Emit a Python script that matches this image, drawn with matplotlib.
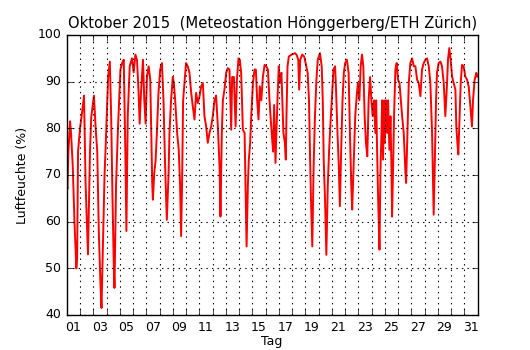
import numpy as np
import matplotlib
matplotlib.use('Agg')
import matplotlib.pyplot as plt

# Zeitpunkt (Tag im Oktober, mit Bruchteil) und relative Luftfeuchte (%)
tage = [
    1.00, 1.05, 1.12, 1.25, 1.32, 1.45, 1.58, 1.65, 1.72, 1.78, 1.85, 2.00, 2.18, 2.30,
    2.42, 2.55, 2.60, 2.75, 2.85, 3.05, 3.18, 3.30, 3.42, 3.55, 3.62, 3.75, 3.85, 3.92,
    4.05, 4.12, 4.25, 4.35, 4.45, 4.55, 4.60, 4.72, 4.85, 4.95, 5.05, 5.18, 5.30, 5.42,
    5.50, 5.60, 5.75, 5.92, 6.05, 6.18, 6.30, 6.42, 6.50, 6.60, 6.75, 6.85, 6.95, 7.05,
    7.18, 7.30, 7.38, 7.45, 7.50, 7.60, 7.70, 7.80, 7.92, 8.05, 8.18, 8.30, 8.42, 8.55,
    8.68, 8.75, 8.87, 9.00, 9.08, 9.18, 9.33, 9.45, 9.55, 9.63, 9.70, 9.78, 9.88, 10.00,
    10.13, 10.26, 10.39, 10.51, 10.64, 10.76, 10.89, 11.02, 11.14, 11.27, 11.39, 11.52,
    11.64, 11.77, 11.90, 12.02, 12.15, 12.27, 12.40, 12.53, 12.60, 12.70, 12.78, 12.90,
    13.03, 13.16, 13.28, 13.41, 13.48, 13.61, 13.74, 13.84, 13.96, 14.06, 14.16, 14.29,
    14.42, 14.49, 14.57, 14.67, 14.74, 14.84, 14.92, 15.05, 15.17, 15.27, 15.37, 15.47,
    15.57, 15.68, 15.80, 15.93, 16.05, 16.18, 16.30, 16.43, 16.57, 16.65, 16.75, 16.90,
    17.00, 17.08, 17.20, 17.28, 17.35, 17.46, 17.53, 17.58, 17.66, 17.76, 17.96, 18.22,
    18.34, 18.47, 18.54, 18.62, 18.77, 18.92, 19.05, 19.18, 19.28, 19.35, 19.43, 19.53,
    19.63, 19.73, 19.84, 19.94, 20.11, 20.24, 20.32, 20.39, 20.49, 20.59, 20.70, 20.80,
    20.90, 21.00, 21.13, 21.25, 21.33, 21.43, 21.53, 21.61, 21.71, 21.81, 21.91, 22.01,
    22.14, 22.27, 22.37, 22.47, 22.54, 22.65, 22.77, 22.90, 22.97, 23.08, 23.18, 23.28,
    23.38, 23.48, 23.58, 23.68, 23.78, 23.89, 23.99, 24.09, 24.19, 24.29, 24.35, 24.42,
    24.50, 24.55, 24.60, 24.67, 24.75, 24.80, 24.87, 24.95, 25.00, 25.10, 25.18, 25.25,
    25.35, 25.43, 25.50, 25.55, 25.63, 25.70, 25.80, 25.90, 26.00, 26.11, 26.21, 26.31,
    26.43, 26.56, 26.61, 26.71, 26.81, 26.93, 27.06, 27.19, 27.31, 27.44, 27.56, 27.69,
    27.81, 27.94, 28.07, 28.19, 28.32, 28.44, 28.57, 28.64, 28.69, 28.77, 28.87, 28.94,
    29.07, 29.20, 29.32, 29.45, 29.57, 29.70, 29.77, 29.87, 29.97, 30.08, 30.20, 30.33,
    30.40, 30.48, 30.55, 30.65, 30.73, 30.83, 30.95, 31.08, 31.21, 31.33, 31.46, 31.58,
    31.66, 31.78, 31.91, 31.98,
]
feuchte = [
    68.0, 67.0, 75.0, 81.5, 79.0, 72.0, 60.0, 55.0, 50.0, 52.0, 75.0, 80.0, 84.0, 87.0,
    68.0, 57.5, 53.0, 75.0, 82.5, 87.0, 80.0, 75.0, 57.5, 46.0, 41.5, 57.5, 70.0, 75.0,
    85.5, 91.0, 94.3, 82.5, 65.0, 50.4, 45.8, 68.0, 79.0, 86.0, 92.6, 94.0, 94.7, 75.0,
    58.0, 82.5, 93.3, 95.0, 92.0, 95.8, 94.7, 87.6, 81.0, 87.6, 94.7, 86.0, 81.0, 91.0,
    93.3, 90.4, 79.0, 68.0, 64.7, 70.4, 73.0, 79.0, 87.6, 92.6, 94.0, 86.0, 72.0, 60.4,
    70.0, 79.0, 86.0, 91.0, 89.7, 86.0, 79.0, 75.4, 68.0, 56.9, 68.0, 86.0, 89.7, 94.0,
    93.3, 91.9, 87.6, 84.7, 81.9, 87.6, 85.4, 86.9, 89.0, 89.7, 82.6, 80.4,
    76.9, 79.0, 80.4, 82.6, 86.0, 87.0, 80.4, 71.9, 61.1, 79.0, 86.0, 88.3,
    91.9, 92.9, 92.6, 79.7, 91.0, 91.0, 80.4, 90.4, 95.0, 94.7, 91.9, 79.7,
    79.0, 68.0, 54.7, 68.0, 73.3, 76.9, 82.6, 89.7, 92.6, 92.6, 86.0, 81.9,
    89.0, 86.0, 91.0, 93.6, 93.3, 92.6, 86.0, 80.4, 75.0, 85.0, 72.6, 86.0,
    93.3, 89.7, 91.9, 84.7, 79.0, 76.9, 73.3, 82.6, 93.3, 95.4, 95.8, 96.1,
    95.8, 94.7, 88.3, 94.7, 95.8, 95.4, 93.6, 91.9, 86.0, 75.4, 64.7, 54.7,
    71.9, 82.6, 90.4, 94.7, 96.1, 93.3, 86.0, 73.3, 64.7, 52.9, 68.0, 75.4,
    81.0, 86.0, 92.6, 93.3, 87.6, 79.0, 71.9, 63.3, 75.4, 86.0, 91.9, 94.0,
    94.7, 91.9, 79.0, 68.0, 62.6, 71.9, 82.6, 87.6, 89.7, 86.0, 93.3, 95.8,
    93.3, 82.6, 76.9, 74.0, 86.0, 91.0, 86.0, 82.6, 86.0, 79.0, 86.0, 75.4,
    64.7, 59.7, 54.0, 70.4, 79.0, 86.0, 73.3, 86.0, 76.9, 86.0, 79.0, 86.0,
    75.4, 82.6, 71.9, 61.1, 71.9, 82.6, 92.6, 94.0, 90.4, 89.7, 86.0, 82.6,
    79.0, 70.4, 68.3, 79.0, 89.7, 94.0, 95.0, 93.3, 93.3, 90.4, 89.7, 86.9,
    92.6, 94.0, 94.7, 95.0, 93.3, 89.7, 79.0, 68.3, 61.5, 71.9, 86.0, 91.9,
    94.0, 94.3, 93.3, 89.7, 82.6, 89.7, 94.7, 97.2, 94.7, 91.1, 89.7, 88.3,
    80.4, 76.9, 74.4, 82.6, 89.7, 93.6, 93.3, 91.1, 90.4, 89.0, 84.7, 80.4,
    86.0, 90.4, 91.9, 91.1,
]

tag_labels = ['%02d' % d for d in range(1, 32, 2)]

plt.style.use('classic')
fig = plt.figure(figsize=(5.3, 3.5), dpi=100)
ax = fig.add_axes([0.126, 0.1, 0.775, 0.8])

ax.plot(tage, feuchte, color='red', lw=1.4)

ax.set_xlim(1, 32)
ax.set_ylim(40, 100)

# Tagesgrenzen als Ticks/Gitter, Beschriftung jeweils in der Tagesmitte
ax.set_xticks(np.arange(2, 32))
ax.set_xticklabels([])
ax.set_xticks(np.arange(1.5, 32, 2), minor=True)
ax.set_xticklabels(tag_labels, minor=True)
ax.tick_params(axis='x', which='minor', length=0, pad=4)
ax.tick_params(which='both', direction='in', labelsize=9, top=True, right=True)
ax.grid(True, which='major', color='k', linestyle=':', lw=0.8)

ax.set_title('Oktober 2015  (Meteostation Hönggerberg/ETH Zürich)', fontsize=10.6)
ax.set_xlabel('Tag', fontsize=9, labelpad=1)
ax.set_ylabel('Luftfeuchte (%)', fontsize=9, labelpad=6)

fig.savefig('out.png', dpi=100)
